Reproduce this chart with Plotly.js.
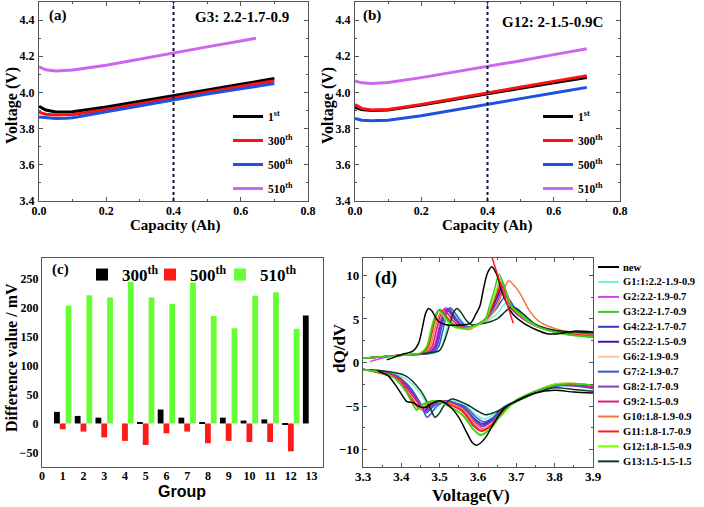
<!DOCTYPE html>
<html><head><meta charset="utf-8">
<script src="https://cdn.plot.ly/plotly-3.0.1.min.js"></script>
<style>html,body{margin:0;padding:0;background:#fff}#chart{width:704px;height:507px}</style>
</head><body><div id="chart"></div>
<script>
// ---------- Panel (a): G3 ----------
const capA = [0, 0.02, 0.05, 0.08, 0.1, 0.2, 0.3, 0.4, 0.5, 0.6, 0.7];
const a1st = [3.924, 3.903, 3.892, 3.891, 3.893, 3.920, 3.950, 3.981, 4.013, 4.045, 4.077];
const a300 = [3.891, 3.880, 3.875, 3.876, 3.878, 3.906, 3.938, 3.972, 4.003, 4.034, 4.065];
const a500 = [3.865, 3.860, 3.856, 3.857, 3.860, 3.893, 3.927, 3.961, 3.991, 4.020, 4.050];
const capA510 = [0, 0.02, 0.05, 0.08, 0.1, 0.2, 0.3, 0.4, 0.5, 0.6, 0.645];
const a510 = [4.142, 4.125, 4.118, 4.120, 4.124, 4.150, 4.185, 4.221, 4.252, 4.284, 4.300];
// ---------- Panel (b): G12 ----------
const capB = [0, 0.02, 0.05, 0.08, 0.1, 0.2, 0.3, 0.4, 0.5, 0.6, 0.7];
const b1st = [3.918, 3.905, 3.900, 3.901, 3.903, 3.930, 3.962, 3.993, 4.023, 4.053, 4.082];
const b300 = [3.933, 3.912, 3.903, 3.903, 3.906, 3.934, 3.966, 3.998, 4.030, 4.062, 4.093];
const b500 = [3.856, 3.846, 3.843, 3.844, 3.846, 3.871, 3.903, 3.938, 3.966, 3.997, 4.028];
const b510 = [4.063, 4.053, 4.050, 4.052, 4.055, 4.082, 4.112, 4.143, 4.175, 4.209, 4.242];
const cycleNames = ['1<sup>st</sup>', '300<sup>th</sup>', '500<sup>th</sup>', '510<sup>th</sup>'];
const markCapacity = 0.4;
// ---------- Panel (c) ----------
const groups = [1,2,3,4,5,6,7,8,9,10,11,12,13];
const diff300 = [20, 13, 10, 0, 1, 24, 10, 1, 10, 5, 7, -2, 186];
const diff500 = [-10, -14, -24, -30, -37, -17, -14, -34, -30, -32, -32, -48, null];
const diff510 = [203, 221, 217, 244, 217, 206, 243, 185, 164, 220, 226, 163, null];
// ---------- Panel (d): dQ/dV ----------
const dNames = ['new','G1:1:2.2-1.9-0.9','G2:2.2-1.9-0.7','G3:2.2-1.7-0.9','G4:2.2-1.7-0.7','G5:2.2-1.5-0.9','G6:2-1.9-0.9','G7:2-1.9-0.7','G8:2-1.7-0.9','G9:2-1.5-0.9','G10:1.8-1.9-0.9','G11:1.8-1.7-0.9','G12:1.8-1.5-0.9','G13:1.5-1.5-1.5'];
const dColors = ['#000000','#70F5D8','#D83CF0','#33CC22','#3A3AC8','#4B12A0','#FFC294','#3357D9','#7D45C4','#E3197E','#F07A3A','#FF1A1A','#7CFC00','#0E3B20'];

const vNewU = [3.362,3.40,3.43,3.445,3.455,3.463,3.471,3.48,3.495,3.52,3.55,3.58,3.595,3.605,3.615,3.625,3.636,3.648,3.665,3.69,3.72,3.755,3.78,3.81,3.85,3.90];
const qNewU = [0.3,0.9,1.3,2.2,4.0,5.6,6.2,5.9,4.8,4.3,4.3,4.5,5.6,6.5,8.6,10.3,11.0,10.2,7.8,5.6,4.5,3.7,3.3,3.3,3.6,3.5];
const vNewL = [3.90,3.85,3.80,3.75,3.70,3.67,3.645,3.62,3.605,3.595,3.585,3.57,3.55,3.525,3.50,3.48,3.46,3.445,3.43,3.415,3.40,3.385,3.365,3.34];
const qNewL = [-3.5,-3.4,-3.2,-3.5,-4.4,-5.2,-6.7,-8.6,-9.3,-9.5,-9.2,-8.0,-6.3,-5.0,-4.4,-4.7,-5.2,-5.0,-4.6,-4.5,-3.6,-2.6,-1.5,-1.0];

const vG1U = [3.30,3.36,3.42,3.49,3.506,3.518,3.528,3.536,3.546,3.561,3.58,3.60,3.625,3.65,3.663,3.675,3.687,3.705,3.75,3.80,3.85,3.90];
const qG1U = [0.5,0.7,0.9,1.1,1.8,3.8,5.2,5.8,5.4,4.6,4.1,4.3,4.8,5.6,6.4,6.9,6.5,5.8,4.3,3.6,3.3,3.2];
const vG1L = [3.90,3.85,3.80,3.75,3.70,3.665,3.64,3.615,3.595,3.565,3.53,3.505,3.49,3.48,3.465,3.44,3.40,3.35,3.30];
const qG1L = [-2.9,-2.6,-2.7,-3.4,-4.4,-5.2,-6.0,-6.5,-6.0,-4.8,-4.4,-4.7,-5.3,-5.6,-4.6,-3.0,-1.6,-1.0,-0.8];

const vG2U = [3.318,3.36,3.42,3.47,3.485,3.497,3.507,3.515,3.525,3.54,3.56,3.58,3.60,3.62,3.633,3.646,3.658,3.67,3.688,3.75,3.80,3.85,3.90];
const qG2U = [0.1,0.6,0.9,1.1,1.8,3.8,5.6,6.3,5.9,4.9,4.1,4.1,4.4,5.0,6.3,7.6,9.3,8.3,6.1,4.2,3.6,3.3,3.1];
const vG2L = [3.90,3.85,3.80,3.75,3.70,3.66,3.635,3.61,3.59,3.56,3.51,3.485,3.47,3.46,3.445,3.42,3.39,3.35,3.30];
const qG2L = [-2.8,-2.5,-2.6,-3.4,-4.4,-5.6,-6.8,-7.4,-6.8,-5.3,-4.4,-4.7,-5.2,-5.6,-4.5,-3.0,-1.7,-1.1,-0.8];

const vG3U = [3.30,3.36,3.42,3.452,3.467,3.479,3.489,3.497,3.507,3.522,3.542,3.57,3.60,3.62,3.63,3.643,3.655,3.667,3.685,3.75,3.80,3.85,3.90];
const qG3U = [0.5,0.7,0.9,1.1,1.8,3.8,5.4,6.0,5.7,4.8,4.1,4.0,4.4,5.1,6.5,8.4,10.1,9.0,6.6,4.3,3.5,3.1,2.9];
const vG3L = [3.90,3.85,3.80,3.75,3.70,3.657,3.632,3.607,3.587,3.557,3.49,3.465,3.45,3.44,3.428,3.41,3.38,3.34,3.30];
const qG3L = [-2.6,-2.4,-2.6,-3.3,-4.3,-6.2,-7.6,-8.3,-7.6,-5.9,-4.4,-4.6,-5.0,-5.4,-4.6,-3.2,-1.7,-1.1,-0.8];

const vG4U = [3.30,3.36,3.42,3.477,3.492,3.504,3.514,3.522,3.532,3.547,3.567,3.585,3.60,3.62,3.638,3.651,3.663,3.675,3.693,3.75,3.80,3.85,3.90];
const qG4U = [0.5,0.7,0.9,1.1,1.8,3.8,5.6,6.2,5.8,4.8,4.1,4.1,4.4,5.0,6.2,7.5,8.6,7.8,6.0,4.2,3.6,3.3,3.2];
const vG4L = [3.90,3.85,3.80,3.75,3.70,3.662,3.637,3.612,3.592,3.562,3.515,3.49,3.475,3.465,3.45,3.425,3.39,3.35,3.30];
const qG4L = [-2.9,-2.6,-2.6,-3.4,-4.4,-5.3,-6.5,-7.0,-6.5,-5.1,-4.4,-4.8,-5.4,-5.8,-4.7,-3.0,-1.6,-1.1,-0.8];

const vG5U = [3.30,3.36,3.42,3.473,3.488,3.50,3.51,3.518,3.528,3.543,3.563,3.585,3.60,3.62,3.637,3.65,3.662,3.674,3.692,3.75,3.80,3.85,3.90];
const qG5U = [0.5,0.7,0.9,1.1,1.8,3.8,5.5,6.1,5.7,4.8,4.1,4.1,4.4,5.0,6.3,7.6,8.7,7.8,6.0,4.2,3.6,3.3,3.2];
const vG5L = [3.90,3.85,3.80,3.75,3.70,3.66,3.635,3.61,3.59,3.56,3.51,3.485,3.47,3.46,3.445,3.42,3.39,3.35,3.30];
const qG5L = [-2.9,-2.6,-2.7,-3.4,-4.4,-5.4,-6.6,-7.2,-6.6,-5.2,-4.4,-4.7,-5.1,-5.5,-4.5,-3.0,-1.6,-1.1,-0.8];

const vG6U = [3.30,3.36,3.42,3.465,3.48,3.492,3.502,3.51,3.52,3.535,3.555,3.58,3.60,3.62,3.64,3.653,3.665,3.677,3.695,3.75,3.80,3.85,3.90];
const qG6U = [0.5,0.7,0.9,1.1,1.8,3.8,5.4,6.0,5.6,4.8,4.1,4.0,4.3,4.9,6.1,7.3,8.2,7.5,5.9,4.3,3.6,3.3,3.1];
const vG6L = [3.90,3.85,3.80,3.75,3.70,3.662,3.637,3.612,3.592,3.562,3.505,3.48,3.465,3.455,3.44,3.415,3.385,3.35,3.30];
const qG6L = [-2.7,-2.5,-2.6,-3.3,-4.4,-5.7,-7.0,-7.6,-7.0,-5.4,-4.4,-4.7,-5.1,-5.5,-4.5,-3.0,-1.7,-1.1,-0.8];

const vG7U = [3.30,3.36,3.42,3.482,3.497,3.509,3.519,3.527,3.537,3.552,3.572,3.59,3.605,3.625,3.647,3.66,3.672,3.684,3.702,3.75,3.80,3.85,3.90];
const qG7U = [0.5,0.7,0.9,1.1,1.8,3.8,5.7,6.3,5.9,4.9,4.1,4.2,4.5,5.1,6.1,7.0,7.6,7.1,5.9,4.3,3.6,3.3,3.2];
const vG7L = [3.90,3.85,3.80,3.75,3.70,3.665,3.64,3.615,3.595,3.565,3.517,3.492,3.477,3.467,3.452,3.427,3.39,3.35,3.30];
const qG7L = [-3.0,-2.7,-2.7,-3.4,-4.4,-5.2,-6.3,-6.8,-6.3,-5.0,-4.5,-5.0,-5.9,-6.3,-5.0,-3.1,-1.6,-1.1,-0.8];

const vG8U = [3.30,3.36,3.42,3.475,3.49,3.502,3.512,3.52,3.53,3.545,3.565,3.585,3.60,3.62,3.64,3.653,3.665,3.677,3.695,3.75,3.80,3.85,3.90];
const qG8U = [0.5,0.7,0.9,1.1,1.8,3.8,5.6,6.2,5.8,4.8,4.1,4.1,4.4,5.0,6.1,7.3,8.3,7.5,5.9,4.2,3.6,3.3,3.2];
const vG8L = [3.90,3.85,3.80,3.75,3.70,3.662,3.637,3.612,3.592,3.562,3.512,3.487,3.472,3.462,3.447,3.422,3.39,3.35,3.30];
const qG8L = [-2.9,-2.6,-2.6,-3.4,-4.4,-5.5,-6.7,-7.3,-6.7,-5.2,-4.4,-4.8,-5.3,-5.7,-4.6,-3.0,-1.6,-1.1,-0.8];

const vG9U = [3.30,3.36,3.42,3.465,3.48,3.492,3.502,3.51,3.52,3.535,3.555,3.58,3.60,3.62,3.635,3.648,3.66,3.672,3.69,3.75,3.80,3.85,3.90];
const qG9U = [0.5,0.7,0.9,1.1,1.8,3.8,5.5,6.1,5.7,4.8,4.1,4.0,4.4,5.0,6.4,7.7,8.8,7.9,6.1,4.2,3.6,3.2,3.1];
const vG9L = [3.90,3.85,3.80,3.75,3.70,3.66,3.635,3.61,3.59,3.56,3.505,3.48,3.465,3.455,3.44,3.415,3.385,3.35,3.30];
const qG9L = [-2.8,-2.5,-2.6,-3.3,-4.4,-5.9,-7.2,-7.8,-7.2,-5.5,-4.4,-4.6,-5.0,-5.3,-4.4,-3.0,-1.7,-1.1,-0.8];

const vG10U = [3.30,3.36,3.42,3.46,3.475,3.487,3.497,3.505,3.515,3.53,3.55,3.575,3.60,3.625,3.645,3.662,3.68,3.695,3.71,3.735,3.76,3.80,3.85,3.90];
const qG10U = [0.5,0.7,0.9,1.1,1.8,3.8,5.3,5.9,5.5,4.6,4.0,3.8,4.3,5.0,6.1,7.8,9.4,8.8,7.9,5.9,4.7,3.9,3.4,3.1];
const vG10L = [3.90,3.85,3.80,3.75,3.70,3.662,3.637,3.612,3.592,3.562,3.50,3.475,3.46,3.45,3.435,3.41,3.38,3.34,3.30];
const qG10L = [-2.6,-2.4,-2.5,-3.3,-4.4,-5.7,-7.0,-7.6,-7.0,-5.4,-4.4,-4.6,-5.0,-5.4,-4.5,-3.1,-1.7,-1.1,-0.8];

const vG11U = [3.30,3.36,3.42,3.455,3.47,3.482,3.492,3.50,3.51,3.525,3.545,3.575,3.60,3.62,3.637,3.65,3.662,3.674,3.692,3.75,3.80,3.85,3.90];
const qG11U = [0.5,0.7,0.9,1.1,1.8,3.8,5.5,6.1,5.7,4.8,4.1,4.0,4.4,5.0,6.5,7.9,9.1,8.1,6.2,4.2,3.5,3.2,3.0];
const vG11L = [3.90,3.85,3.80,3.75,3.70,3.658,3.633,3.608,3.588,3.558,3.495,3.47,3.455,3.445,3.43,3.41,3.40,3.35,3.30];
const qG11L = [-2.7,-2.5,-2.6,-3.3,-4.4,-5.9,-7.3,-7.9,-7.3,-5.6,-4.4,-4.6,-4.9,-5.2,-4.4,-3.0,-2.0,-1.3,-0.8];

const vG12U = [3.30,3.36,3.42,3.45,3.465,3.477,3.487,3.495,3.505,3.52,3.54,3.57,3.60,3.62,3.633,3.646,3.658,3.67,3.688,3.75,3.80,3.85,3.90];
const qG12U = [0.5,0.7,0.9,1.1,1.8,3.8,5.3,5.9,5.6,4.7,4.0,3.9,4.3,5.0,6.4,8.0,9.6,8.6,6.4,4.2,3.5,3.1,2.9];
const vG12L = [3.90,3.85,3.80,3.75,3.70,3.657,3.632,3.607,3.587,3.557,3.49,3.465,3.45,3.44,3.428,3.41,3.38,3.34,3.30];
const qG12L = [-2.6,-2.4,-2.5,-3.3,-4.3,-6.3,-7.7,-8.4,-7.7,-6.0,-4.4,-4.7,-5.1,-5.5,-4.6,-3.2,-1.7,-1.1,-0.8];

const vG13U = [3.30,3.36,3.42,3.47,3.50,3.515,3.527,3.537,3.545,3.555,3.57,3.585,3.60,3.625,3.65,3.67,3.688,3.70,3.72,3.75,3.80,3.85,3.90];
const qG13U = [0.5,0.7,0.9,1.1,1.4,2.8,4.5,5.8,6.2,5.8,4.8,4.3,4.4,4.6,5.0,5.8,6.4,6.2,5.5,4.4,3.7,3.5,3.4];
const vG13L = [3.90,3.85,3.80,3.75,3.70,3.67,3.645,3.62,3.60,3.57,3.532,3.512,3.498,3.488,3.475,3.45,3.41,3.36,3.30];
const qG13L = [-3.3,-3.1,-2.9,-3.5,-4.5,-5.2,-5.7,-6.0,-5.6,-4.8,-4.2,-4.9,-5.9,-6.3,-5.2,-3.2,-1.5,-1.0,-0.8];

const trendV = [3.637, 3.692];
const trendQ = [12.0, 4.5];

// ---------- build ----------
const serif = 'Liberation Serif, Times New Roman, serif';
const F = (s) => ({family: serif, size: s, color: '#000', weight: 'bold'});
const traces = [];
const cycColors = ['#000000', '#FF1010', '#2050E0', '#CC66EE'];

function addCycle(xs, ys, i, xa, ya, leg) {
  traces.push({x: xs, y: ys, type: 'scatter', mode: 'lines', name: cycleNames[i],
    line: {color: cycColors[i], width: 3}, xaxis: xa, yaxis: ya, legend: leg, legendgroup: leg + i});
}
addCycle(capA, a1st, 0, 'x', 'y', 'legend');
addCycle(capA, a300, 1, 'x', 'y', 'legend');
addCycle(capA, a500, 2, 'x', 'y', 'legend');
addCycle(capA510, a510, 3, 'x', 'y', 'legend');
addCycle(capB, b1st, 0, 'x2', 'y2', 'legend2');
addCycle(capB, b300, 1, 'x2', 'y2', 'legend2');
addCycle(capB, b500, 2, 'x2', 'y2', 'legend2');
addCycle(capB, b510, 3, 'x2', 'y2', 'legend2');

const barNames = ['300<sup>th</sup>', '500<sup>th</sup>', '510<sup>th</sup>'];
const barColors = ['#000000', '#FF1A1A', '#66FF33'];
const barLegends = ['legend3', 'legend4', 'legend5'];
[diff300, diff500, diff510].forEach((d, i) => {
  traces.push({x: groups, y: d, type: 'bar', name: barNames[i], marker: {color: barColors[i]},
    xaxis: 'x3', yaxis: 'y3', legend: barLegends[i], offsetgroup: 'g' + i});
});

const dU = [[vNewU,qNewU],[vG1U,qG1U],[vG2U,qG2U],[vG3U,qG3U],[vG4U,qG4U],[vG5U,qG5U],[vG6U,qG6U],[vG7U,qG7U],[vG8U,qG8U],[vG9U,qG9U],[vG10U,qG10U],[vG11U,qG11U],[vG12U,qG12U],[vG13U,qG13U]];
const dL = [[vNewL,qNewL],[vG1L,qG1L],[vG2L,qG2L],[vG3L,qG3L],[vG4L,qG4L],[vG5L,qG5L],[vG6L,qG6L],[vG7L,qG7L],[vG8L,qG8L],[vG9L,qG9L],[vG10L,qG10L],[vG11L,qG11L],[vG12L,qG12L],[vG13L,qG13L]];
const drawOrder = [1,2,4,5,6,7,8,9,10,11,13,12,3,0];
drawOrder.forEach(i => {
  traces.push({x: dU[i][0].concat([null], dL[i][0]), y: dU[i][1].concat([null], dL[i][1]),
    type: 'scatter', mode: 'lines', name: dNames[i], showlegend: false,
    line: {color: dColors[i], width: 1.5, shape: 'spline', smoothing: 0.8},
    xaxis: 'x4', yaxis: 'y4'});
});
traces.push({x: trendV, y: trendQ, type: 'scatter', mode: 'lines', showlegend: false,
  line: {color: '#FF1A1A', width: 1.5}, xaxis: 'x4', yaxis: 'y4'});

const W = 704, H = 507;
const px = (x) => x / W, py = (y) => (H - y) / H;

const axBase = {showline: true, linecolor: '#555', linewidth: 1.3, mirror: 'ticks', showgrid: false,
  zeroline: false, ticks: 'inside', ticklen: 4, tickcolor: '#555', tickfont: F(12)};

const ann = (text, x, y, font, extra) => Object.assign({xref: 'paper', yref: 'paper', showarrow: false,
  text: text, x: px(x), y: py(y), xanchor: 'center', yanchor: 'middle', font: font}, extra || {});

const annotations = [
  ann('(a)', 47, 15, F(15), {xanchor: 'left'}),
  ann('G3: 2.2-1.7-0.9', 291, 17, F(15), {xanchor: 'right'}),
  ann('(b)', 361, 15, F(15), {xanchor: 'left'}),
  ann('G12: 2-1.5-0.9C', 605, 22, F(15), {xanchor: 'right'}),
  ann('(c)', 50, 269, F(15), {xanchor: 'left'}),
  ann('(d)', 373, 278, F(18), {xanchor: 'left'}),
  // axis titles
  ann('Voltage (V)', 12, 106, F(16), {textangle: -90}),
  ann('Capacity (Ah)', 175, 225, F(15)),
  ann('Voltage (V)', 328, 106, F(16), {textangle: -90}),
  ann('Capacity (Ah)', 487, 226, F(15)),
  ann('Difference value / mV', 11, 358, F(16), {textangle: -90}),
  ann('Group', 182, 491, {family: 'Liberation Sans, Arial, sans-serif', size: 16, color: '#000', weight: 'bold'}),
  ann('dQ/dV', 339, 348, F(17), {textangle: -90}),
  ann('Voltage(V)', 471, 495, F(17))
];

const shapes = [
  {type: 'line', xref: 'x', yref: 'y domain', x0: markCapacity, x1: markCapacity, y0: 0, y1: 1, line: {color: '#15153a', width: 2, dash: 'dot'}},
  {type: 'line', xref: 'x2', yref: 'y2 domain', x0: markCapacity, x1: markCapacity, y0: 0, y1: 1, line: {color: '#15153a', width: 2, dash: 'dot'}}
];
// legend for (d) as text + line swatches
dNames.forEach((n, i) => {
  const yy = 267 + i * 14.95;
  annotations.push(ann(n, 621, yy, F(10.5), {xanchor: 'left'}));
  shapes.push({type: 'line', xref: 'paper', yref: 'paper', x0: px(598), x1: px(619), y0: py(yy), y1: py(yy),
    line: {color: dColors[i], width: 2}});
});

const legBase = {bgcolor: 'rgba(0,0,0,0)', borderwidth: 0, xanchor: 'left', yanchor: 'top',
  font: F(11.5), tracegroupgap: 5, itemwidth: 30};
const barLeg = (x) => ({bgcolor: 'rgba(0,0,0,0)', borderwidth: 0, x: px(x), y: py(257), xanchor: 'left', yanchor: 'top',
  font: F(17), itemwidth: 30});

const layout = {
  width: W, height: H, margin: {l: 0, r: 0, t: 0, b: 0}, paper_bgcolor: '#fff', plot_bgcolor: '#fff',
  barmode: 'group', bargap: 0.16, bargroupgap: 0,
  xaxis: Object.assign({}, axBase, {domain: [px(39), px(308)], range: [0, 0.8], dtick: 0.2, tickformat: '.1f', anchor: 'y',
    ticklabelstandoff: -2, minor: {ticks: 'inside', ticklen: 2, dtick: 0.1, tickcolor: '#555'}}),
  yaxis: Object.assign({}, axBase, {domain: [py(201), py(2)], range: [3.4, 4.5], dtick: 0.2, tick0: 3.4, tickformat: '.1f', anchor: 'x',
    ticklabelstandoff: 1, minor: {ticks: 'inside', ticklen: 2, dtick: 0.1, tickcolor: '#555'}}),
  xaxis2: Object.assign({}, axBase, {domain: [px(355), px(620)], range: [0, 0.8], dtick: 0.2, tickformat: '.1f', anchor: 'y2',
    ticklabelstandoff: -2, minor: {ticks: 'inside', ticklen: 2, dtick: 0.1, tickcolor: '#555'}}),
  yaxis2: Object.assign({}, axBase, {domain: [py(201), py(2)], range: [3.4, 4.5], dtick: 0.2, tick0: 3.4, tickformat: '.1f', anchor: 'x2',
    ticklabelstandoff: 1, minor: {ticks: 'inside', ticklen: 2, dtick: 0.1, tickcolor: '#555'}}),
  xaxis3: Object.assign({}, axBase, {domain: [px(42), px(323)], range: [0, 13.55], dtick: 1, anchor: 'y3', ticks: '',
    ticklabelstandoff: -3}),
  yaxis3: Object.assign({}, axBase, {domain: [py(467), py(258)], range: [-75, 285], dtick: 50, anchor: 'x3', ticks: ''}),
  xaxis4: Object.assign({}, axBase, {domain: [px(363), px(593)], range: [3.3, 3.9], dtick: 0.1, tickformat: '.1f', anchor: 'y4',
    ticklabelstandoff: -3, tickfont: F(13), minor: {ticks: 'inside', ticklen: 2, dtick: 0.05, tickcolor: '#555'}}),
  yaxis4: Object.assign({}, axBase, {domain: [py(467), py(258)], range: [-12, 12], dtick: 5, tick0: 0, anchor: 'x4',
    tickfont: F(13), minor: {ticks: 'inside', ticklen: 2, dtick: 2.5, tickcolor: '#555'}}),
  legend: Object.assign({}, legBase, {x: px(228), y: py(102)}),
  legend2: Object.assign({}, legBase, {x: px(538), y: py(102)}),
  legend3: barLeg(82),
  legend4: barLeg(150),
  legend5: barLeg(220),
  annotations: annotations,
  shapes: shapes,
  showlegend: true
};

Plotly.newPlot('chart', traces, layout, {displayModeBar: false, responsive: false});
</script></body></html>
